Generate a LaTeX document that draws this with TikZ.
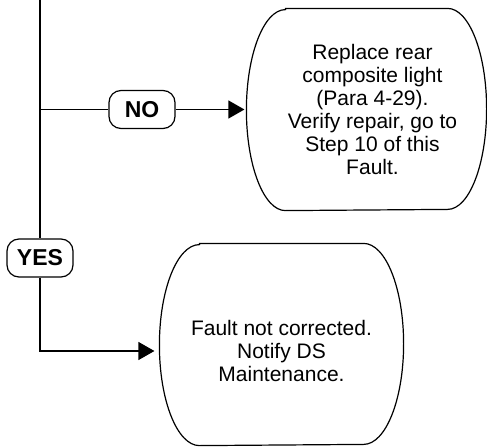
\documentclass[tikz,border=0pt]{standalone}
\usepackage{fontspec}
\setmainfont{Liberation Sans}
\usetikzlibrary{arrows.meta, positioning, calc}

\begin{document}
\begin{tikzpicture}[
    x=0.5pt, y=0.5pt, line width=0.6pt,
    answer/.style={draw, rounded corners=6pt, minimum width=33pt, minimum height=19pt, inner sep=0pt, font=\bfseries\fontsize{11.5}{13}\selectfont},
    stepbox/.style={minimum width=#1, minimum height=100.5pt, inner sep=0pt, align=center, font=\fontsize{10.5}{11.5}\selectfont},
    outline/.style={line width=0.6pt},
    arrow/.style={-{Triangle[length=8pt, width=9pt]}}
]
\useasboundingbox (0,0) rectangle (487,446);

\coordinate (top) at (40,446);
\coordinate (split) at (40,336.5);
\node[answer] (no) at (142,336.5) {NO};
\node[answer] (yes) at (40,188) {YES};
\node[stepbox=119.5pt] (repl) at (372.5,336.5) {Replace rear\\composite light\\(Para 4-29).\hspace*{0.6em}\\Verify repair, go to\\Step 10 of this\\Fault.};
\node[stepbox=121.5pt] (fault) at (281.5,95) {Fault not corrected.\\Notify DS\hspace*{0.3em}\\Maintenance.};

% outlines of the step boxes
\draw[outline] ([xshift=16.5pt]repl.north west) -- ([xshift=-22.5pt]repl.north east)
    arc[start angle=90, end angle=-90, x radius=19.5pt, y radius=50.25pt]
    -- ([xshift=16.5pt]repl.south west)
    arc[start angle=270, end angle=90, x radius=19.5pt, y radius=50.25pt] -- cycle;
\draw[outline] ([xshift=20pt, yshift=3.25pt]fault.north west) -- ([xshift=-20pt, yshift=3.25pt]fault.north east)
    arc[start angle=90, end angle=-90, x radius=20pt, y radius=50.25pt]
    -- ([xshift=20pt, yshift=3.25pt]fault.south west)
    arc[start angle=270, end angle=90, x radius=20pt, y radius=50.25pt] -- cycle;

\draw (top) -- (yes);
\draw (split) -- (no);
\draw[arrow] (no) -- ([xshift=-4pt]repl.west);
\draw[arrow] (yes) |- ([xshift=-2.5pt]fault.west);
\end{tikzpicture}
\end{document}
